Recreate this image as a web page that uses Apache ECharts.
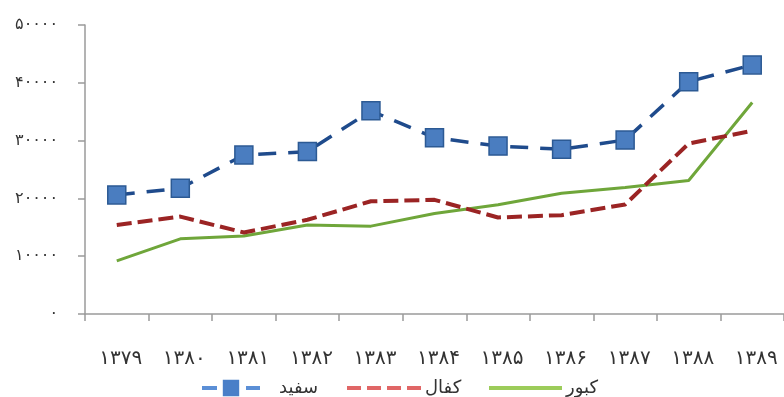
<!DOCTYPE html>
<html>
<head>
<meta charset="utf-8">
<script src="https://cdn.jsdelivr.net/npm/echarts@6/dist/echarts.min.js"></script>
<style>
  html, body { margin: 0; padding: 0; background: #ffffff; }
  #chart { width: 784px; height: 397px; }
</style>
</head>
<body>
<div id="chart"></div>
<script>
// Years (Persian calendar) along the category axis
const years = ['۱۳۷۹', '۱۳۸۰', '۱۳۸۱', '۱۳۸۲', '۱۳۸۳', '۱۳۸۴', '۱۳۸۵', '۱۳۸۶', '۱۳۸۷', '۱۳۸۸', '۱۳۸۹'];

// Value axis tick labels, one per 10000 step
const yTickLabels = ['۰', '۱۰۰۰۰', '۲۰۰۰۰', '۳۰۰۰۰', '۴۰۰۰۰', '۵۰۰۰۰'];

// Series names
const seriesNames = ['سفید', 'کفال', 'کبور'];

// Yearly values per species
const sefid = [20600, 21750, 27500, 28100, 35150, 30500, 29050, 28500, 30100, 40200, 43100];
const kafal = [15400, 16850, 14100, 16300, 19500, 19750, 16700, 17100, 18950, 29500, 31700];
const kabur = [9200, 13000, 13500, 15400, 15200, 17400, 18900, 20900, 21900, 23100, 36600];

const FONT = 'DejaVu Sans';
const axisGrey = '#9a9a9a';
const noMarker = { color: 'rgba(0,0,0,0)', borderColor: 'rgba(0,0,0,0)', borderWidth: 0 };

const chart = echarts.init(document.getElementById('chart'), null, { renderer: 'canvas' });

chart.setOption({
  animation: false,
  backgroundColor: '#ffffff',
  grid: { left: 85, top: 25, width: 707, height: 289, containLabel: false },
  xAxis: {
    type: 'category',
    data: years,
    boundaryGap: true,
    axisLine: { lineStyle: { color: axisGrey, width: 1.5 } },
    axisTick: { show: true, length: 7, lineStyle: { color: axisGrey, width: 1.5 } },
    axisLabel: {
      interval: 0,
      margin: 35,
      fontFamily: FONT,
      fontSize: 20,
      color: '#333333',
      padding: [0, 0, 0, 8]
    },
    splitLine: { show: false }
  },
  yAxis: {
    type: 'value',
    min: 0,
    max: 50000,
    interval: 10000,
    axisLine: { show: true, lineStyle: { color: axisGrey, width: 1.5 } },
    axisTick: { show: true, length: 7, lineStyle: { color: axisGrey, width: 1.5 } },
    axisLabel: {
      margin: 27,
      fontFamily: FONT,
      fontSize: 16,
      color: '#333333',
      formatter: function (v) { return yTickLabels[Math.round(v / 10000)]; }
    },
    splitLine: { show: false }
  },
  legend: [
    {
      left: 195, top: 374, itemWidth: 58, itemHeight: 18,
      textStyle: { fontFamily: FONT, fontSize: 18, color: '#333', padding: [0, 0, 0, 14] },
      data: [{
        name: seriesNames[0],
        lineStyle: { color: '#5b8fd6', width: 4, type: [15, 29, 14, 10] },
        itemStyle: { color: '#4a7fc8', borderColor: '#4a7fc8' }
      }]
    },
    {
      left: 340, top: 374, itemWidth: 76, itemHeight: 18,
      textStyle: { fontFamily: FONT, fontSize: 18, color: '#333', padding: [0, 0, 0, -3] },
      data: [{
        name: seriesNames[1],
        lineStyle: { color: '#e06666', width: 4, type: [14, 6] },
        itemStyle: noMarker
      }]
    },
    {
      left: 482, top: 374, itemWidth: 73, itemHeight: 18,
      textStyle: { fontFamily: FONT, fontSize: 18, color: '#333', padding: [0, 0, 0, -1] },
      data: [{
        name: seriesNames[2],
        lineStyle: { color: '#9ccc5a', width: 4 },
        itemStyle: noMarker
      }]
    }
  ],
  series: [
    {
      name: seriesNames[2],
      type: 'line',
      data: kabur,
      symbol: 'none',
      lineStyle: { color: '#6fa63a', width: 3 },
      itemStyle: { color: '#6fa63a' },
      z: 2
    },
    {
      name: seriesNames[1],
      type: 'line',
      data: kafal,
      symbol: 'none',
      lineStyle: { color: '#9b2424', width: 4, type: [15, 6] },
      itemStyle: { color: '#9b2424' },
      z: 3
    },
    {
      name: seriesNames[0],
      type: 'line',
      data: sefid,
      symbol: 'rect',
      symbolSize: 18,
      lineStyle: { color: '#1f4b8c', width: 3.5, type: [18, 12] },
      itemStyle: { color: '#4a7dc0', borderColor: '#2c5a94', borderWidth: 1.5 },
      z: 4
    }
  ]
});
</script>
</body>
</html>
